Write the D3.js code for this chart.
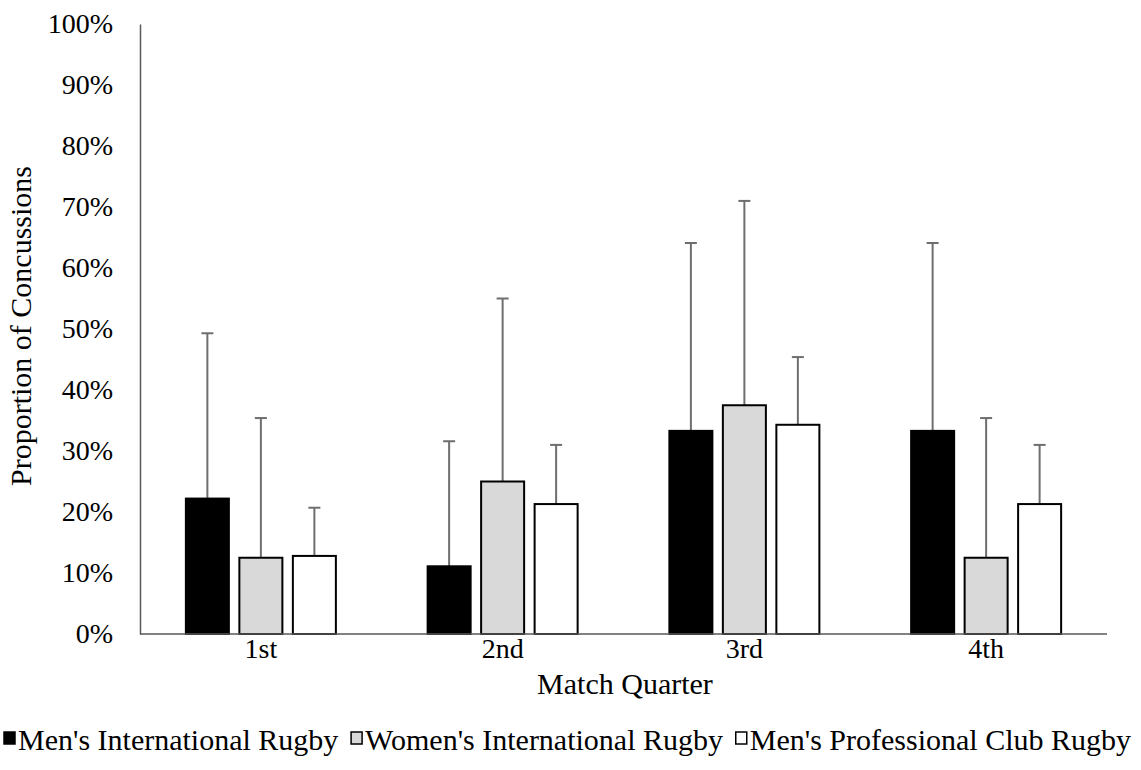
<!DOCTYPE html>
<html>
<head>
<meta charset="utf-8">
<script src="https://cdn.jsdelivr.net/npm/d3@7"></script>
<style>
  html, body { margin: 0; padding: 0; background: #fff; }
  svg { display: block; }
  svg text { font-family: "Liberation Serif", "Times New Roman", Times, "DejaVu Serif", serif !important; fill: #000; }
</style>
</head>
<body>
<svg id="chart" width="1141" height="770"></svg>
<script>
const categories = ["1st", "2nd", "3rd", "4th"];
const seriesNames = ["Men's International Rugby", "Women's International Rugby", "Men's Professional Club Rugby"];
const mensIntl = [0.222, 0.111, 0.333, 0.333];
const womensIntl = [0.125, 0.25, 0.375, 0.125];
const mensClub = [0.128, 0.213, 0.343, 0.213];
const mensIntlUpper = [0.493, 0.316, 0.641, 0.641];
const womensIntlUpper = [0.354, 0.55, 0.71, 0.354];
const mensClubUpper = [0.207, 0.31, 0.454, 0.31];
const yTicks = [0, 0.1, 0.2, 0.3, 0.4, 0.5, 0.6, 0.7, 0.8, 0.9, 1.0];
const fills = ["#000000", "#d9d9d9", "#ffffff"];

const values = [mensIntl, womensIntl, mensClub];
const uppers = [mensIntlUpper, womensIntlUpper, mensClubUpper];
const FONT = "'Liberation Serif', 'Times New Roman', Times, serif";

const svg = d3.select("#chart").attr("font-family", FONT);
const mLeft = 140, mRight = 1107, mTop = 24, mBottom = 634;

const x0 = d3.scaleBand().domain(categories).range([mLeft, mRight]).padding(0);
const groupW = 150;
const x1 = d3.scaleBand().domain(d3.range(3)).range([0, groupW]).paddingInner(0.196).paddingOuter(0);
const y = d3.scaleLinear().domain([0, 1]).range([mBottom, mTop]);

const data = [];
categories.forEach((c, i) => {
  for (let s = 0; s < 3; s++) data.push({ cat: c, s, v: values[s][i], u: uppers[s][i] });
});
const off = (x0.bandwidth() - groupW) / 2;

// error bars (drawn first, behind bars)
const eb = svg.append("g");
data.forEach(d => {
  const cx = x0(d.cat) + off + x1(d.s) + x1.bandwidth() / 2;
  eb.append("line").attr("x1", cx).attr("x2", cx).attr("y1", y(d.v)).attr("y2", y(d.u))
    .attr("stroke", "#6e6e6e").attr("stroke-width", 2);
  eb.append("line").attr("x1", cx - 6).attr("x2", cx + 6).attr("y1", y(d.u)).attr("y2", y(d.u))
    .attr("stroke", "#6e6e6e").attr("stroke-width", 2);
});

// bars
svg.append("g").selectAll("rect").data(data).join("rect")
  .attr("x", d => x0(d.cat) + off + x1(d.s))
  .attr("y", d => y(d.v))
  .attr("width", x1.bandwidth())
  .attr("height", d => y(0) - y(d.v))
  .attr("fill", d => fills[d.s])
  .attr("stroke", "#000")
  .attr("stroke-width", 2);

// y axis
const yAxis = d3.axisLeft(y).tickValues(yTicks).tickFormat(d3.format(".0%")).tickSize(0).tickPadding(27);
const gy = svg.append("g").attr("transform", `translate(${mLeft},0)`).call(yAxis)
  .attr("font-family", FONT).attr("font-size", 28);
gy.select(".domain").attr("stroke", "#595959").attr("stroke-width", 1.5);
gy.selectAll("text").attr("fill", "#000");

// x axis
const xAxis = d3.axisBottom(x0).tickSize(0).tickPadding(4);
const gx = svg.append("g").attr("transform", `translate(0,${mBottom})`).call(xAxis)
  .attr("font-family", FONT).attr("font-size", 28);
gx.select(".domain").attr("stroke", "#595959").attr("stroke-width", 1.5).attr("d", `M${mLeft},0H${mRight}`);
gx.selectAll("text").attr("fill", "#000");

// titles
svg.append("text").attr("x", 625).attr("y", 694).attr("text-anchor", "middle")
  .attr("font-size", 30).text("Match Quarter");
svg.append("text").attr("transform", `translate(31,326) rotate(-90)`)
  .attr("text-anchor", "middle").attr("font-size", 30).text("Proportion of Concussions");

// legend: laid out sequentially, then spread to span the width
const lg = svg.append("g");
const items = seriesNames.map((n, i) => {
  const g = lg.append("g");
  g.append("rect").attr("x", 1).attr("y", 732).attr("width", 11).attr("height", 12)
    .attr("fill", fills[i]).attr("stroke", "#000").attr("stroke-width", 1.5);
  const t = g.append("text").attr("x", 15).attr("y", 750).attr("font-size", 30).text(n);
  return { g, w: 15 + t.node().getComputedTextLength() };
});
const startX = 3, endX = 1131;
const totalW = d3.sum(items, d => d.w);
const gap = (endX - startX - totalW) / (items.length - 1);
let cx = startX;
items.forEach(it => { it.g.attr("transform", `translate(${cx},0)`); cx += it.w + gap; });
</script>
</body>
</html>
